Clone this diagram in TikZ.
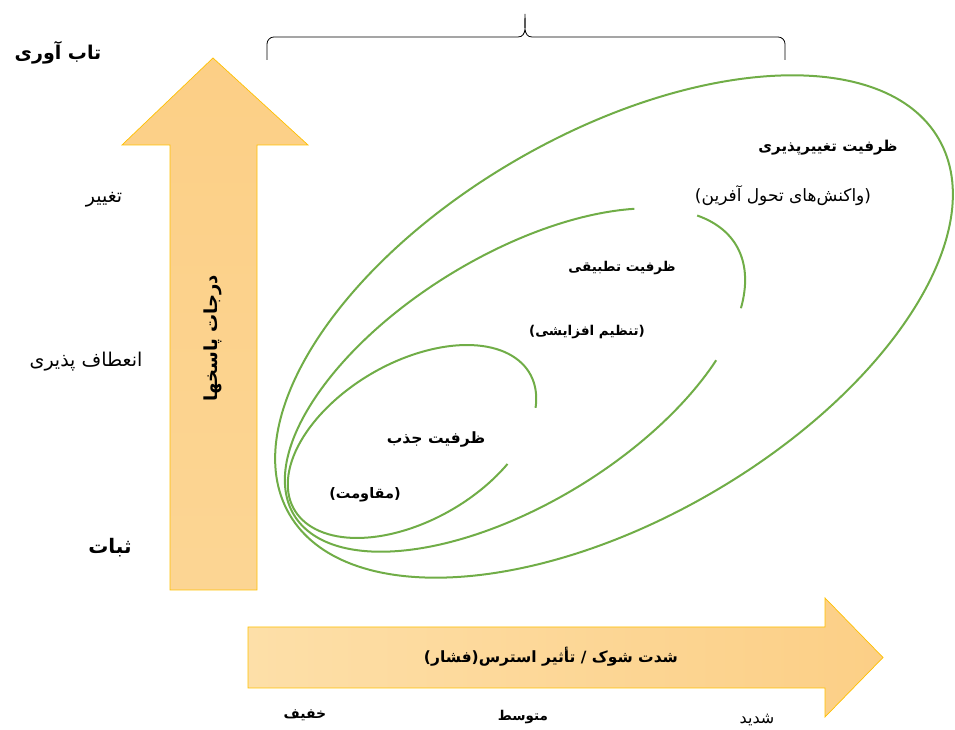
\documentclass[tikz,border=0pt]{standalone}
\usepackage{fontspec}
\usepackage{tikz}
\usetikzlibrary{positioning}
\newfontfamily\farsi[Script=Arabic]{DejaVu Sans}
\TeXXeTstate=1
\newcommand{\fa}[1]{\beginR #1\endR}
\definecolor{ringgreen}{HTML}{70AD47}
\definecolor{arrowedge}{HTML}{FFC000}
\definecolor{arrowlight}{HTML}{FDDFA8}
\definecolor{arrowdark}{HTML}{FCCF86}

\begin{document}
\begin{tikzpicture}[x=1pt,y=1pt,
  ring/.style={draw=ringgreen,line width=2pt},
  bigarrow/.style={draw=arrowedge,line width=0.7pt},
  lbl/.style={inner sep=1pt,font=\farsi\fontsize{#1}{#1}\selectfont},
  blbl/.style={inner sep=1pt,font=\farsi\bfseries\fontsize{#1}{#1}\selectfont}]
\useasboundingbox (0,0) rectangle (955,730);
\draw[bigarrow,top color=arrowdark,bottom color=arrowdark!60!arrowlight] (170,140) -- (170,585) -- (122,585) -- (213,672) -- (308,585) -- (257,585) -- (257,140) -- cycle;
\draw[bigarrow,left color=arrowlight,right color=arrowdark] (248,42) -- (825,42) -- (825,13) -- (883,72.5) -- (825,132) -- (825,103) -- (248,103) -- cycle;
\draw[line width=0.8pt] (267,670) -- (267,686) to[out=90,in=180] (274,693) -- (518,693) to[out=0,in=-90] (525,716) to[out=-90,in=180] (532,693) -- (778,693) to[out=0,in=90] (785,686) -- (785,670);
\begin{scope}[shift={(614,403.5)},rotate=30]
\draw[ring] (0,0) ellipse [x radius=375,y radius=193];
\end{scope}
\begin{scope}[shift={(515,350)},rotate=31.5]
\draw[ring] (42.4:259 and 124) arc[start angle=42.4,end angle=314.6,x radius=259,y radius=124];
\draw[ring] (21.3:259 and 124) arc[start angle=21.3,end angle=-27.3,x radius=259,y radius=124];
\end{scope}
\begin{scope}[shift={(412,288.5)},rotate=30]
\draw[ring] (-24.4:136 and 79) arc[start angle=-24.4,end angle=301.7,x radius=136,y radius=79];
\end{scope}
\node[blbl=19] (toplbl) at (58,677) {\fa{تاب آوری}};
\node[lbl=19] (changelbl) at (104,530) {\fa{تغییر}};
\node[lbl=19] (flexlbl) at (86,368) {\fa{انعطاف پذیری}};
\node[blbl=20] (stablelbl) at (110,182) {\fa{ثبات}};
\node[blbl=18,rotate=90] (resplbl) at (213,392) {\fa{درجات پاسخها}};
\node[blbl=15] (transcap) at (828,582) {\fa{ظرفیت تغییرپذیری}};
\node[lbl=17] (transsub) at (783,534) {\fa{(واکنش‌های تحول آفرین)}};
\node[blbl=13.5] (adaptcap) at (622,462) {\fa{ظرفیت تطبیقی}};
\node[blbl=13.5] (adaptsub) at (587,398) {\fa{(تنظیم افزایشی)}};
\node[blbl=15.5] (absorbcap) at (436,290) {\fa{ظرفیت جذب}};
\node[blbl=14.5] (absorbsub) at (365,235) {\fa{(مقاومت)}};
\node[blbl=15.5] (shocklbl) at (551,73) {\fa{شدت شوک / تأثیر استرس(فشار)}};
\node[blbl=14] (lowlbl) at (305,15) {\fa{خفیف}};
\node[blbl=13.5] (midlbl) at (523,13) {\fa{متوسط}};
\node[lbl=16] (highlbl) at (757,10) {\fa{شدید}};
\end{tikzpicture}
\end{document}
